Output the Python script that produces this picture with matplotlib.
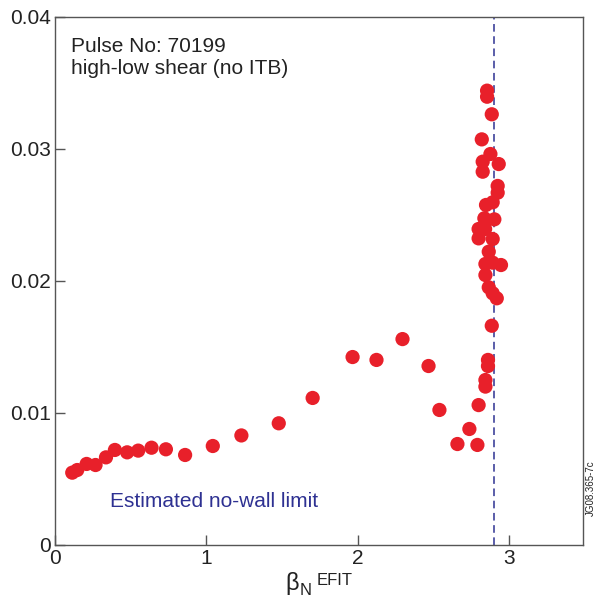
import matplotlib
matplotlib.use("Agg")
import matplotlib.pyplot as plt
from matplotlib.ticker import FuncFormatter

plt.rcParams['font.family'] = ['Liberation Sans', 'DejaVu Sans']

beta_n = [0.114, 0.147, 0.209, 0.268, 0.337, 0.396, 0.477, 0.55, 0.638, 0.733,
          0.86, 1.043, 1.232, 1.479, 1.703, 1.967, 2.125, 2.297, 2.469, 2.541,
          2.66, 2.739, 2.792, 2.80, 2.845, 2.845, 2.862, 2.862, 2.887, 2.867,
          2.893, 2.92, 2.845, 2.845, 2.948, 2.856, 2.856, 2.887, 2.821, 2.878,
          2.827, 2.933, 2.827, 2.926, 2.926, 2.893, 2.849, 2.838, 2.904, 2.80,
          2.843, 2.80, 2.893, 2.867, 2.893]
yvals = [0.00548, 0.00568, 0.00614, 0.00606, 0.00664, 0.0072, 0.00702, 0.00715, 0.00737, 0.00725,
         0.00682, 0.0075, 0.0083, 0.00922, 0.01114, 0.01424, 0.01402, 0.0156, 0.01356, 0.01023,
         0.00765, 0.00879, 0.00758, 0.0106, 0.0125, 0.0120, 0.01402, 0.01356, 0.01661, 0.01952,
         0.01907, 0.01869, 0.02045, 0.02129, 0.02121, 0.03442, 0.03396, 0.03263, 0.03073, 0.02962,
         0.02904, 0.02886, 0.02828, 0.0272, 0.02669, 0.02596, 0.02576, 0.02475, 0.02467, 0.02394,
         0.02394, 0.02323, 0.02318, 0.02222, 0.02139]
no_wall_limit = 2.9
x_ticks = [0, 1, 2, 3]
y_ticks = [0, 0.01, 0.02, 0.03, 0.04]

W, H = 595, 601
fig = plt.figure(figsize=(W/100, H/100), dpi=100)
ax = fig.add_axes([55/W, 1-545/H, (583-55)/W, (545-17)/H])

ax.scatter(beta_n, yvals, s=105, color='#E8202A', edgecolors='none', zorder=3)
ax.axvline(no_wall_limit, color='#2E3192', lw=1.1, ls=(0, (5, 3)), zorder=2)

ax.set_xlim(0, 3.49)
ax.set_ylim(0, 0.04)
ax.set_xticks(x_ticks)
ax.set_yticks(y_ticks)
ax.yaxis.set_major_formatter(FuncFormatter(lambda v, p: '0' if v == 0 else f'{v:.2f}'))
ax.tick_params(direction='in', length=7, width=1, color='#555555', labelsize=15, pad=3,
               labelcolor='#222222')
for sp in ax.spines.values():
    sp.set_color('#555555')
    sp.set_linewidth(1)

ax.text(16/528, (545-52)/528, 'Pulse No: 70199', transform=ax.transAxes,
        ha='left', va='baseline', fontsize=15, color='#222222')
ax.text(16/528, (545-74)/528, 'high-low shear (no ITB)', transform=ax.transAxes,
        ha='left', va='baseline', fontsize=15, color='#222222')
ax.text(55/528, (545-507)/528, 'Estimated no-wall limit', transform=ax.transAxes,
        ha='left', va='baseline', fontsize=15, color='#2E3192')

fig.text(285/W, 1-590/H, 'β', fontsize=17, ha='left', va='baseline', color='#222222')
fig.text(300/W, 1-595/H, 'N', fontsize=12, ha='left', va='baseline', color='#222222')
fig.text(317/W, 1-585/H, 'EFIT', fontsize=12, ha='left', va='baseline', color='#222222')
fig.text(591/W, 1-488/H, 'JG08.365-7c', fontsize=7, rotation=90, ha='center', va='center',
         color='#222222')

fig.savefig('out.png', dpi=100)
